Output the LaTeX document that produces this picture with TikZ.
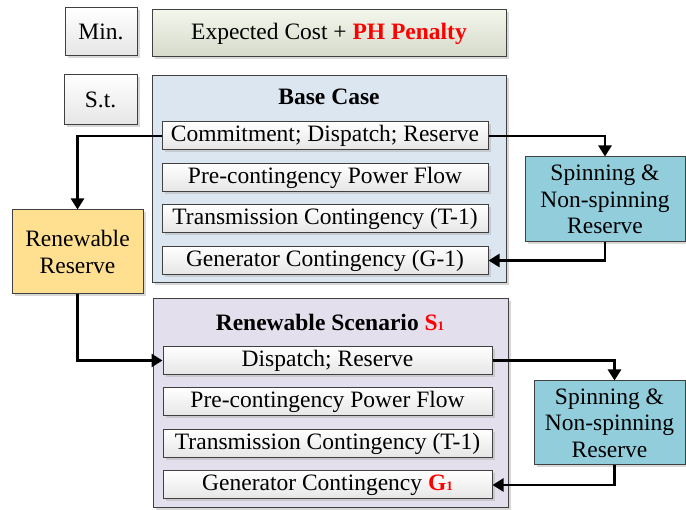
\documentclass[tikz,border=0pt]{standalone}
\usepackage{fontspec}
\setmainfont{Liberation Serif}
\usepackage{xcolor}
\usepackage{tikz}
\usetikzlibrary{arrows.meta, positioning, shadows}
\definecolor{grisborde}{RGB}{64, 64, 64}
\definecolor{azulclaro}{RGB}{220, 230, 241}
\definecolor{lila}{RGB}{228, 223, 236}
\definecolor{verdeclaro}{RGB}{235, 240, 222}
\definecolor{amarillo}{RGB}{255, 224, 145}
\definecolor{turquesa}{RGB}{146, 205, 220}
\definecolor{rojo}{RGB}{255, 0, 0}

\begin{document}
\begin{tikzpicture}[x=1pt, y=-1pt,
    box/.style={rectangle, draw=grisborde, line width=1pt, align=center, inner sep=0pt,
                drop shadow={shadow xshift=2.5pt, shadow yshift=-2.5pt, fill=black!30, opacity=0.5},
                font=\fontsize{23.5}{26.5}\selectfont},
    cell/.style={box, top color=white, bottom color=black!10},
    row/.style={cell, minimum height=28pt},
    title/.style={font=\fontsize{23.5}{26.5}\selectfont\bfseries},
    arrow/.style={-{Triangle[width=13pt, length=11pt]}, line width=2.6pt}
]
\useasboundingbox (0,0) rectangle (686,510);
% objective and constraint labels
\node (mincell) [cell, minimum width=72pt, minimum height=48pt] at (101,32) {Min.};
\node (objbox) [box, top color=verdeclaro!60, bottom color=verdeclaro!90!black!95,
    minimum width=354pt, minimum height=47pt] at (329,33.5)
    {Expected Cost + \textcolor{rojo}{\textbf{PH Penalty}}};
\node (stcell) [cell, minimum width=73pt, minimum height=50pt] at (100.5,100) {S.t.};
% base case
\node (basebox) [box, fill=azulclaro, minimum width=354pt, minimum height=207pt] at (329,179.5) {};
\node (basetitle) [title] at (329,97) {Base Case};
\node (base1) [row, minimum width=326pt] at (325,136) {Commitment; Dispatch; Reserve};
\node (base2) [row, minimum width=326pt, below=12.5pt of base1] {Pre-contingency Power Flow};
\node (base3) [row, minimum width=326pt, below=12.5pt of base2] {Transmission Contingency (T-1)};
\node (base4) [row, minimum width=326pt, below=12.5pt of base3] {Generator Contingency (G-1)};
% renewable scenario
\node (scenbox) [box, fill=lila, minimum width=355pt, minimum height=209pt] at (330.5,403.5) {};
\node (scentitle) [title] at (330,322)
    {Renewable Scenario \textcolor{rojo}{S{\fontsize{13}{13}\selectfont 1}}};
\node (scen1) [row, minimum width=329pt] at (327.5,360.5) {Dispatch; Reserve};
\node (scen2) [row, minimum width=329pt, below=12.5pt of scen1] {Pre-contingency Power Flow};
\node (scen3) [row, minimum width=329pt, below=12.5pt of scen2] {Transmission Contingency (T-1)};
\node (scen4) [row, minimum width=329pt, below=12.5pt of scen3]
    {Generator Contingency \textcolor{rojo}{\textbf{G{\fontsize{13}{13}\selectfont 1}}}};
% reserves
\node (rsvbox) [box, fill=amarillo, minimum width=131pt, minimum height=84pt] at (77.5,252) {Renewable\\Reserve};
\node (spin1) [box, fill=turquesa, minimum width=160pt, minimum height=85pt] at (605,199.5)
    {Spinning \&\\Non-spinning\\Reserve};
\node (spin2) [box, fill=turquesa, minimum width=151pt, minimum height=84pt] at (609.5,423)
    {Spinning \&\\Non-spinning\\Reserve};
\draw [arrow] (base1.west) -| (rsvbox.north);
\draw [arrow] (base1.east) -| (spin1.north);
\draw [arrow] (spin1.south) |- (base4.east);
\draw [arrow] (rsvbox.south) |- (scen1.west);
\draw [arrow] (scen1.east) -| ([xshift=5pt]spin2.north);
\draw [arrow] ([xshift=5pt]spin2.south) |- (scen4.east);
\end{tikzpicture}
\end{document}
